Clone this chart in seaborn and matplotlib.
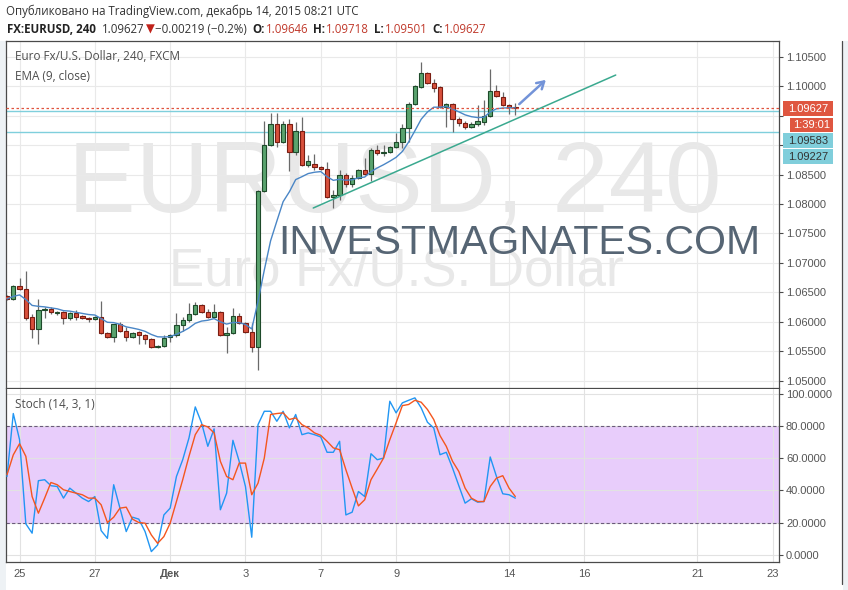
import matplotlib
matplotlib.use("Agg")
import matplotlib.pyplot as plt
from matplotlib.patches import Rectangle
from matplotlib.lines import Line2D
import numpy as np
import pandas as pd
import seaborn as sns

# 4H bars, EUR/USD (FXCM), 24 Nov - 14 Dec 2015
opens = [1.06441, 1.06390, 1.06610, 1.06559, 1.06085, 1.05881, 1.06203, 1.06220, 1.06144, 1.06169,
         1.06068, 1.06153, 1.06102, 1.06068, 1.06051, 1.06085, 1.05814, 1.05746, 1.05966, 1.05847,
         1.05746, 1.05831, 1.05780, 1.05712, 1.05576, 1.05593, 1.05746, 1.05780, 1.05949, 1.06034,
         1.06136, 1.06288, 1.06169, 1.06085, 1.06169, 1.05780, 1.05814, 1.06102, 1.05983, 1.05831,
         1.05576, 1.08220, 1.09000, 1.09356, 1.09051, 1.09356, 1.08881, 1.09237, 1.08661, 1.08678,
         1.08627, 1.08593, 1.08119, 1.08153, 1.08492, 1.08339, 1.08441, 1.08576, 1.08508, 1.08915,
         1.08864, 1.08881, 1.08966, 1.09051, 1.09288, 1.09695, 1.09983, 1.10220, 1.10051, 1.09983,
         1.09644, 1.09695, 1.09441, 1.09373, 1.09305, 1.09356, 1.09390, 1.09491, 1.09915, 1.09814,
         1.09678, 1.09646]
highs = [1.06458, 1.06627, 1.06746, 1.06864, 1.06136, 1.06390, 1.06254, 1.06254, 1.06186, 1.06186,
         1.06169, 1.06203, 1.06119, 1.06085, 1.06102, 1.06356, 1.05831, 1.05966, 1.06000, 1.05915,
         1.05831, 1.05848, 1.05797, 1.05729, 1.05610, 1.05780, 1.05797, 1.06153, 1.06085, 1.06322,
         1.06339, 1.06305, 1.06220, 1.06305, 1.06186, 1.05915, 1.06237, 1.06153, 1.06000, 1.05983,
         1.08237, 1.09407, 1.09542, 1.09542, 1.09407, 1.09441, 1.09390, 1.09474, 1.08830, 1.08847,
         1.08644, 1.08712, 1.08237, 1.08576, 1.08525, 1.08492, 1.08593, 1.08780, 1.08949, 1.09000,
         1.09000, 1.08983, 1.09203, 1.09356, 1.09729, 1.10017, 1.10407, 1.10237, 1.10119, 1.10000,
         1.09712, 1.09712, 1.09474, 1.09407, 1.09390, 1.09678, 1.09763, 1.10288, 1.10017, 1.09898,
         1.09695, 1.09718]
lows = [1.06373, 1.06373, 1.06542, 1.06034, 1.05729, 1.05627, 1.06068, 1.06136, 1.06119, 1.05966,
        1.06034, 1.06034, 1.06051, 1.06000, 1.06034, 1.05797, 1.05729, 1.05661, 1.05831, 1.05678,
        1.05729, 1.05627, 1.05627, 1.05559, 1.05559, 1.05576, 1.05661, 1.05746, 1.05847, 1.06000,
        1.06119, 1.06153, 1.06068, 1.06068, 1.05763, 1.05475, 1.05797, 1.05966, 1.05814, 1.05492,
        1.05186, 1.08203, 1.08983, 1.08966, 1.09034, 1.08559, 1.08830, 1.08644, 1.08627, 1.08576,
        1.08576, 1.08102, 1.07932, 1.08068, 1.08288, 1.08288, 1.08424, 1.08492, 1.08390, 1.08830,
        1.08813, 1.08864, 1.08949, 1.08949, 1.09051, 1.09678, 1.09966, 1.10034, 1.09898, 1.09627,
        1.09305, 1.09220, 1.09322, 1.09271, 1.09288, 1.09322, 1.09339, 1.09474, 1.09814, 1.09661,
        1.09525, 1.09501]
closes = [1.06390, 1.06610, 1.06559, 1.06068, 1.05881, 1.06203, 1.06220, 1.06169, 1.06161, 1.06068,
          1.06153, 1.06085, 1.06068, 1.06051, 1.06085, 1.05814, 1.05746, 1.05966, 1.05847, 1.05746,
          1.05814, 1.05780, 1.05712, 1.05576, 1.05593, 1.05729, 1.05780, 1.05949, 1.06034, 1.06136,
          1.06288, 1.06169, 1.06085, 1.06169, 1.05780, 1.05814, 1.06102, 1.05983, 1.05831, 1.05576,
          1.08220, 1.09000, 1.09356, 1.09051, 1.09356, 1.08881, 1.09237, 1.08661, 1.08729, 1.08627,
          1.08593, 1.08119, 1.08153, 1.08492, 1.08339, 1.08441, 1.08576, 1.08508, 1.08915, 1.08864,
          1.08881, 1.08966, 1.09051, 1.09288, 1.09695, 1.10000, 1.10220, 1.10051, 1.09966, 1.09644,
          1.09695, 1.09441, 1.09373, 1.09305, 1.09356, 1.09407, 1.09491, 1.09915, 1.09831, 1.09678,
          1.09644, 1.09627]

stoch_k = [48.6, 87.6, 71.4, 19.3, 13.5, 46.0, 46.6, 42.9, 42.4, 35.2,
           41.4, 38.3, 35.2, 33.1, 36.2, 15.1, 10.3, 43.5, 29.0, 14.5,
           23.4, 22.2, 14.5, 2.1, 6.2, 24.8, 29.0, 48.6, 59.0, 72.5,
           91.7, 81.8, 67.3, 78.1, 28.0, 38.3, 71.0, 58.0, 42.4, 11.0,
           80.7, 89.0, 89.0, 82.8, 89.0, 78.7, 87.0, 74.5, 75.6, 74.5,
           73.1, 63.6, 63.6, 70.4, 24.8, 26.5, 39.3, 36.2, 62.7, 59.0,
           60.0, 95.2, 88.0, 94.2, 95.8, 97.3, 91.1, 82.2, 78.7, 62.1,
           63.6, 53.8, 42.9, 32.1, 34.8, 32.7, 33.1, 60.7, 48.6, 37.9,
           37.3, 35.2]
stoch_d = [49.7, 62.0, 68.9, 61.1, 36.2, 25.9, 35.2, 44.9, 43.5, 40.4,
           39.3, 38.3, 37.3, 35.2, 35.2, 31.1, 20.1, 23.4, 29.0, 29.6,
           22.2, 20.1, 19.7, 12.4, 7.2, 11.4, 19.7, 33.1, 46.6, 61.1,
           74.5, 80.7, 79.3, 75.6, 58.0, 48.6, 46.6, 56.9, 56.9, 37.3,
           44.5, 60.0, 87.0, 87.6, 88.0, 83.9, 84.9, 80.7, 78.7, 75.6,
           74.1, 70.4, 66.3, 65.2, 52.8, 41.4, 30.4, 34.2, 46.6, 53.2,
           60.0, 71.4, 81.8, 92.5, 93.2, 95.8, 94.6, 90.1, 83.9, 73.9,
           67.3, 58.0, 51.7, 41.4, 35.2, 33.1, 33.1, 42.4, 47.6, 49.1,
           41.4, 36.2]

day_ticks = [2, 14, 26, 38, 50, 62, 80, 92, 110, 122]
day_labels = ["25", "27", "Дек", "3", "7", "9", "14", "16", "21", "23"]
price_ticks = [1.050, 1.055, 1.060, 1.065, 1.070, 1.075, 1.080, 1.085, 1.090, 1.095, 1.100, 1.105]
hidden_ticks = [1.090, 1.095]  # covered by the price labels
stoch_ticks = [0, 20, 40, 60, 80, 100]

last_price = 1.09627
level_a = 1.09583
level_b = 1.09227
trend_x = [48.8, 97.0]
trend_y = [1.07932, 1.10186]
arrow_from = (81.3, 1.09661)
arrow_to = (86.2, 1.10136)

W, H = 848, 590
GREEN, GREEN_EDGE = "#5aa36e", "#1e4a2a"
RED, RED_EDGE = "#d8503c", "#7a1d12"
TXT = "#555555"
FRAME = "#4a4a4a"


def fx(px):
    return px / W


def fy(py):
    return 1 - py / H


sns.set_style("white")
plt.rcParams["font.family"] = ["Liberation Sans", "DejaVu Sans"]

fig = plt.figure(figsize=(W / 100, H / 100), dpi=100)
fig.patch.set_facecolor("white")

# light side margins and outer right border
fig.add_artist(Rectangle((0, 0), fx(5.5), fy(41), transform=fig.transFigure,
                         facecolor="#eef2f5", edgecolor="none", zorder=-1))
fig.add_artist(Rectangle((fx(842.5), 0), fx(W - 842.5), fy(41), transform=fig.transFigure,
                         facecolor="#eef2f5", edgecolor="none", zorder=-1))
fig.add_artist(Line2D([fx(842), fx(842)], [fy(584), fy(41)], transform=fig.transFigure,
                      color=FRAME, lw=0.9))

ax = fig.add_axes([fx(6), fy(388), fx(773), (388 - 41) / H])
ax2 = fig.add_axes([fx(6), fy(562), fx(773), (562 - 388.5) / H])

n = len(closes)
x = np.arange(n)
o = np.array(opens)
c = np.array(closes)
up = c >= o
bottom = np.minimum(o, c)
height = np.abs(c - o)

# candles
ax.vlines(x, lows, highs, color="#6a6a6a", lw=0.9, zorder=2)
ax.bar(x[up], height[up], bottom=bottom[up], width=0.7, color=GREEN,
       edgecolor=GREEN_EDGE, linewidth=0.8, zorder=3)
ax.bar(x[~up], height[~up], bottom=bottom[~up], width=0.7, color=RED,
       edgecolor=RED_EDGE, linewidth=0.8, zorder=3)

ema = pd.Series(closes).ewm(span=9, adjust=False).mean()
sns.lineplot(x=x, y=ema.values, ax=ax, color="#4a86c6", lw=1.0, zorder=4)

ax.axhline(last_price, color="#e0533e", lw=0.9, ls=(0, (2, 2)), zorder=4)
ax.axhline(level_a, color="#7fcfdc", lw=1.0, zorder=1.5)
ax.axhline(level_b, color="#7fcfdc", lw=1.0, zorder=1.5)
ax.plot(trend_x, trend_y, color="#3aa98f", lw=1.1, zorder=5)
ax.annotate("", xy=arrow_to, xytext=arrow_from,
            arrowprops=dict(arrowstyle="->,head_length=0.5,head_width=0.3",
                            color="#7393d8", lw=1.8), zorder=6)

xmin, xmax = -0.16, 123.02
ax.set_xlim(xmin, xmax)
ax.set_ylim(1.04881, 1.10763)
ax.set_xticks(day_ticks)
ax.set_yticks(price_ticks)
ax.yaxis.tick_right()
ax.set_yticklabels(["" if p in hidden_ticks else f"{p:.5f}" for p in price_ticks])
ax.tick_params(axis="x", length=0, labelbottom=False)
ax.tick_params(axis="y", length=3, color=FRAME, labelsize=8, labelcolor=TXT, pad=2)
ax.grid(True, color="#e9e9e9", lw=0.8)
ax.set_axisbelow(True)
for side in ["left", "top", "right", "bottom"]:
    ax.spines[side].set_color(FRAME)
    ax.spines[side].set_linewidth(0.9)
ax.set_xlabel("")
ax.set_ylabel("")

# watermark
ax.text(fx(395), fy(186), "EURUSD, 240", transform=fig.transFigure, ha="center", va="center",
        fontsize=73, color="#e8e8e8", zorder=0.2)
ax.text(fx(396), fy(271), "Euro Fx/U.S. Dollar", transform=fig.transFigure, ha="center",
        va="center", fontsize=38, color="#e8e8e8", zorder=0.2)

ax.text(fx(15), fy(57), "Euro Fx/U.S. Dollar, 240, FXCM", transform=fig.transFigure,
        va="center", fontsize=8.5, color="#4d4d4d", family=["Open Sans", "DejaVu Sans"])
ax.text(fx(15), fy(76), "EMA (9, close)", transform=fig.transFigure,
        va="center", fontsize=8.5, color="#4d4d4d", family=["Open Sans", "DejaVu Sans"])

# stochastic pane
ax2.axhspan(20, 80, color="#e8cdfb", zorder=0.1, lw=0)
sns.lineplot(x=x, y=stoch_k, ax=ax2, color="#2196f3", lw=1.0, zorder=4)
sns.lineplot(x=x, y=stoch_d, ax=ax2, color="#f4561e", lw=1.0, zorder=4)
ax2.axhline(80, color="#6b5a7b", lw=0.8, ls=(0, (3, 2)), zorder=2)
ax2.axhline(20, color="#6b5a7b", lw=0.8, ls=(0, (3, 2)), zorder=2)
ax2.set_xlim(xmin, xmax)
ax2.set_ylim(-4.35, 103.1)
ax2.set_yticks(stoch_ticks)
ax2.yaxis.tick_right()
ax2.set_yticklabels([f"{v:.4f}" for v in stoch_ticks])
ax2.set_xticks(day_ticks)
ax2.set_xticklabels(day_labels)
for lab in ax2.get_xticklabels():
    if lab.get_text() == "Дек":
        lab.set_fontweight("bold")
ax2.tick_params(axis="y", length=3, color=FRAME, labelsize=8, labelcolor=TXT, pad=2)
ax2.tick_params(axis="x", length=3, color=FRAME, labelsize=8, labelcolor=TXT, pad=2)
ax2.grid(True, color="#e2e2e2", lw=0.8)
ax2.set_axisbelow(True)
for side in ["left", "right", "bottom"]:
    ax2.spines[side].set_color(FRAME)
    ax2.spines[side].set_linewidth(0.9)
ax2.spines["top"].set_visible(False)
ax2.set_xlabel("")
ax2.set_ylabel("")
ax2.text(fx(15), fy(405), "Stoch (14, 3, 1)", transform=fig.transFigure,
         va="center", fontsize=8.5, color="#4d4d4d", family=["Open Sans", "DejaVu Sans"])


# price labels on the right scale
def scale_label(y0, y1, x0, text, face, color):
    fig.add_artist(Rectangle((fx(x0), fy(y1)), fx(833 - x0), (y1 - y0) / H,
                             transform=fig.transFigure, facecolor=face, edgecolor="none", zorder=5))
    fig.text(fx((x0 + 833) / 2), fy((y0 + y1) / 2), text, ha="center", va="center",
             fontsize=8, color=color, zorder=6)


scale_label(101, 116, 783, f"{last_price:.5f}", "#df5640", "white")
scale_label(118, 132, 790, "1:39:01", "#df5640", "white")
scale_label(133, 148, 783, f"{level_a:.5f}", "#80cedb", "#333333")
scale_label(149, 164, 783, f"{level_b:.5f}", "#80cedb", "#333333")

fig.text(fx(519), fy(243), "INVESTMAGNATES.COM", ha="center", va="center",
         fontsize=29.5, color="#566574", zorder=10)

# header
hdr_font = ["Open Sans", "DejaVu Sans"]
fig.text(fx(6), fy(15), "Опубликовано на TradingView.com, декабрь 14, 2015 08:21 UTC",
         fontsize=8.3, color="#333333", family=hdr_font, va="baseline")

renderer = fig.canvas.get_renderer()
parts = [("FX:EURUSD, 240", "#222222", "bold", 6),
         ("1.09627", "#333333", "normal", 1),
         ("▼", "#c0221a", "normal", 1),
         ("\u22120.00219 (\u22120.2%)", "#333333", "normal", 5),
         ("O:", "#222222", "bold", 1),
         ("1.09646", "#c0392b", "normal", 5),
         ("H:", "#222222", "bold", 1),
         ("1.09718", "#c0392b", "normal", 5),
         ("L:", "#222222", "bold", 1),
         ("1.09501", "#c0392b", "normal", 5),
         ("C:", "#222222", "bold", 1),
         ("1.09627", "#c0392b", "normal", 0)]
xpos = 7
for s, col, wt, gap in parts:
    t = fig.text(fx(xpos), fy(33), s, fontsize=8.3, color=col, fontweight=wt,
                 family=hdr_font, va="baseline")
    xpos += t.get_window_extent(renderer).width + gap

fig.savefig("out.png", dpi=100)
plt.close(fig)
